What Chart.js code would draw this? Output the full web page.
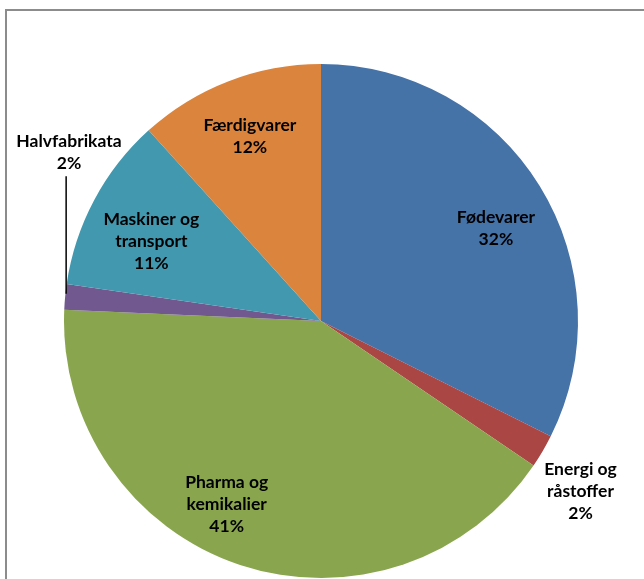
<!DOCTYPE html>
<html>
<head>
<meta charset="utf-8">
<script src="https://cdn.jsdelivr.net/npm/chart.js@4/dist/chart.umd.min.js"></script>
<style>
  html, body { margin: 0; padding: 0; background: #ffffff; }
  #wrap { position: relative; width: 644px; height: 579px; }
</style>
</head>
<body>
<div id="wrap"><canvas id="c" width="644" height="579"></canvas></div>
<script>
// ---- Data ----
const categories = ['Fødevarer', 'Energi og råstoffer', 'Pharma og kemikalier', 'Halvfabrikata', 'Maskiner og transport', 'Færdigvarer'];
const labelLines = [['Fødevarer'], ['Energi og', 'råstoffer'], ['Pharma og', 'kemikalier'], ['Halvfabrikata'], ['Maskiner og', 'transport'], ['Færdigvarer']];
const shares = [32.4, 2.1, 41.2, 1.6, 11.0, 11.7];
const sliceColors = ['#4572A7', '#AA4643', '#89A54E', '#71588F', '#4198AF', '#DB843D'];

// label placement: angle offset (deg) from slice middle, radius factor, leader line
const labelPlacement = [
  { off: 3.8, rf: 0.77 },
  { off: 2.8, rf: 1.207 },
  { off: 8.8, rf: 0.804 },
  { off: 28.4, rf: 1.18, leader: true },
  { off: -2.8, rf: 0.73 },
  { off: 0, rf: 0.77 }
];

const frameAndLabels = {
  id: 'frameAndLabels',
  beforeDraw(chart) {
    const ctx = chart.ctx;
    ctx.save();
    ctx.strokeStyle = '#8c8c8c';
    ctx.lineWidth = 2;
    ctx.beginPath();
    ctx.moveTo(6, 579);
    ctx.lineTo(6, 10);
    ctx.lineTo(644, 10);
    ctx.stroke();
    ctx.restore();
  },
  afterDatasetsDraw(chart) {
    const ctx = chart.ctx;
    const meta = chart.getDatasetMeta(0);
    const lh = 22;
    ctx.save();
    ctx.font = 'bold 17.5px Lato, "Open Sans", sans-serif';
    ctx.fillStyle = '#000000';
    ctx.textAlign = 'center';
    ctx.textBaseline = 'middle';
    meta.data.forEach((arc, i) => {
      const p = arc.getProps(['x', 'y', 'startAngle', 'endAngle', 'outerRadius'], true);
      const pl = labelPlacement[i];
      const mid = (p.startAngle + p.endAngle) / 2;
      const a = mid + pl.off * Math.PI / 180;
      const cx = p.x + Math.cos(a) * p.outerRadius * pl.rf;
      const cy = p.y + Math.sin(a) * p.outerRadius * pl.rf;
      const lines = labelLines[i].concat([Math.round(shares[i]) + '%']);
      const top = cy - (lines.length - 1) * lh / 2;
      lines.forEach((t, k) => ctx.fillText(t, cx, top + k * lh));
      if (pl.leader) {
        const ex = p.x + Math.cos(mid) * p.outerRadius;
        const ey = p.y + Math.sin(mid) * p.outerRadius;
        const ly = top + (lines.length - 1) * lh + 13;
        ctx.strokeStyle = '#000000';
        ctx.lineWidth = 1.5;
        ctx.beginPath();
        ctx.moveTo(ex + 1, ey - 3);
        ctx.lineTo(ex + 1, ly);
        ctx.stroke();
      }
    });
    ctx.restore();
  }
};

new Chart(document.getElementById('c'), {
  type: 'pie',
  data: {
    labels: categories,
    datasets: [{
      data: shares,
      backgroundColor: sliceColors,
      borderWidth: 0
    }]
  },
  options: {
    responsive: false,
    animation: false,
    layout: { padding: { left: 64, top: 64, right: 66, bottom: 1 } },
    plugins: {
      legend: { display: false },
      tooltip: { enabled: false }
    }
  },
  plugins: [frameAndLabels]
});
</script>
</body>
</html>
